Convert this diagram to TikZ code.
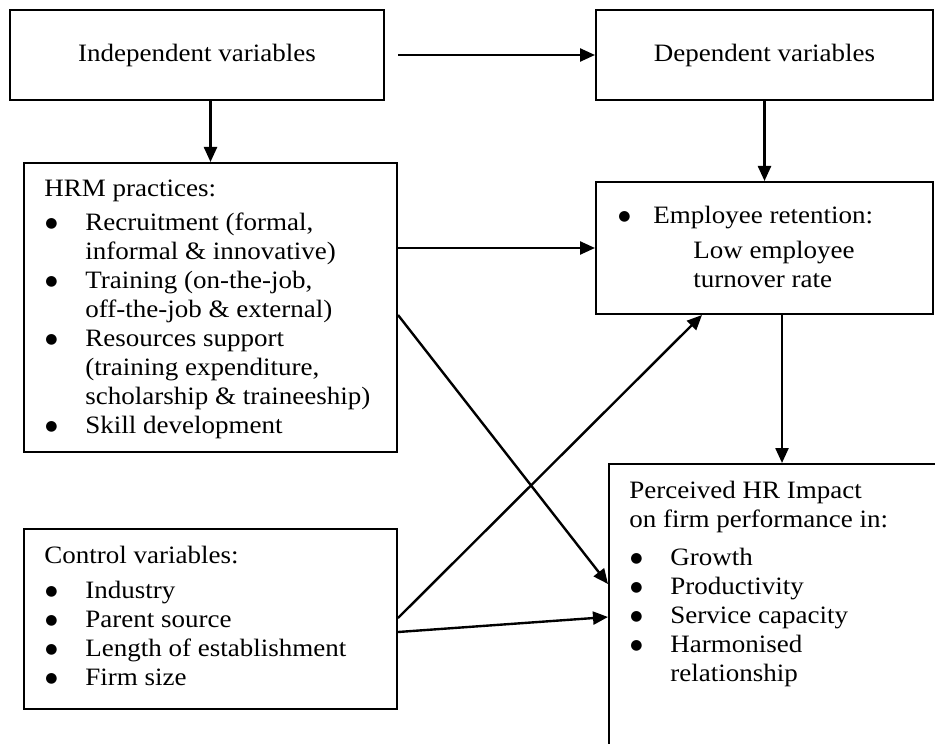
\documentclass[tikz,border=0pt]{standalone}
\usepackage{fontspec}
\setmainfont[FakeStretch=1.08]{Liberation Serif}
\newfontfamily\symfont{DejaVu Sans}
\usetikzlibrary{arrows.meta,positioning}

\newcommand{\bigdot}{\raisebox{1.6pt}{\symfont\fontsize{7}{0}\selectfont ●}}
\newcommand{\bul}{\makebox[20.5pt][l]{\hspace*{0.5pt}\bigdot}}
\newcommand{\contind}{\hspace*{20.5pt}}

\begin{document}
\begin{tikzpicture}[
    x=0.5pt, y=-0.5pt,
    box/.style={draw, line width=1pt, inner sep=0pt, font=\fontsize{12.5}{14.5}\selectfont},
    txt/.style={inner sep=0pt, align=left, font=\fontsize{12.5}{14.5}\selectfont},
    arr/.style={-{Triangle[length=7.5pt, width=6.5pt]}, line width=1.2pt}
]
\useasboundingbox (0,0) rectangle (935,743);
\clip (0,0) rectangle (935,743);

% boxes
\node[box, minimum width=187pt, minimum height=45pt] (indep) at (197,55) {Independent variables};
\node[box, minimum width=168.5pt, minimum height=45pt] (dep) at (764.5,55) {Dependent variables};
\node[box, minimum width=186.5pt, minimum height=144.5pt] (hrm) at (210.5,307.5) {};
\node[box, minimum width=168.5pt, minimum height=66pt] (ret) at (764.5,248) {};
\node[box, minimum width=173pt, minimum height=158pt] (perc) at (782,622) {};
\node[box, minimum width=186.5pt, minimum height=90pt] (ctrl) at (210.5,619) {};

% box texts
\node[txt, below right=9pt and 10.5pt of hrm.north west] (hrmtxt) {HRM practices:\\[2.5pt]
    \bul Recruitment (formal,\\ \contind informal \& innovative)\\
    \bul Training (on-the-job,\\ \contind off-the-job \& external)\\
    \bul Resources support\\ \contind (training expenditure,\\ \contind scholarship \& traineeship)\\
    \bul Skill development};
\node[txt, below right=12.5pt and 11.5pt of ret.north west] (rettxt) {\makebox[17.5pt][l]{\bigdot}Employee retention:\\[3pt]
    \hspace*{37.5pt}Low employee\\ \hspace*{37.5pt}turnover rate};
\node[txt, below right=9pt and 10.5pt of perc.north west] (perctxt) {Perceived HR Impact\\ on firm performance in:\\[4.5pt]
    \bul Growth\\ \bul Productivity\\ \bul Service capacity\\ \bul Harmonised\\ \contind relationship};
\node[txt, below right=9pt and 10.5pt of ctrl.north west] (ctrltxt) {Control variables:\\[3pt]
    \bul Industry\\ \bul Parent source\\ \bul Length of establishment\\ \bul Firm size};

% links
\draw[arr, shorten <=6.5pt] (indep) -- (dep);
\draw[arr] (indep.south -| hrm.north) -- (hrm.north);
\draw[arr] (dep) -- (ret);
\draw[arr] (ret.west -| hrm.east) -- (ret.west);
\draw[arr] (ret.south -| perc.north) -- (perc.north);
\draw[arr] ([yshift=-3.75pt]hrm.east) -- ([yshift=19pt]perc.west);
\draw[arr] ([yshift=0.5pt]ctrl.east) -- ([xshift=-31.25pt]ret.south);
\draw[arr] ([yshift=-6.5pt]ctrl.east) -- ([yshift=2.5pt]perc.west);
\end{tikzpicture}
\end{document}
